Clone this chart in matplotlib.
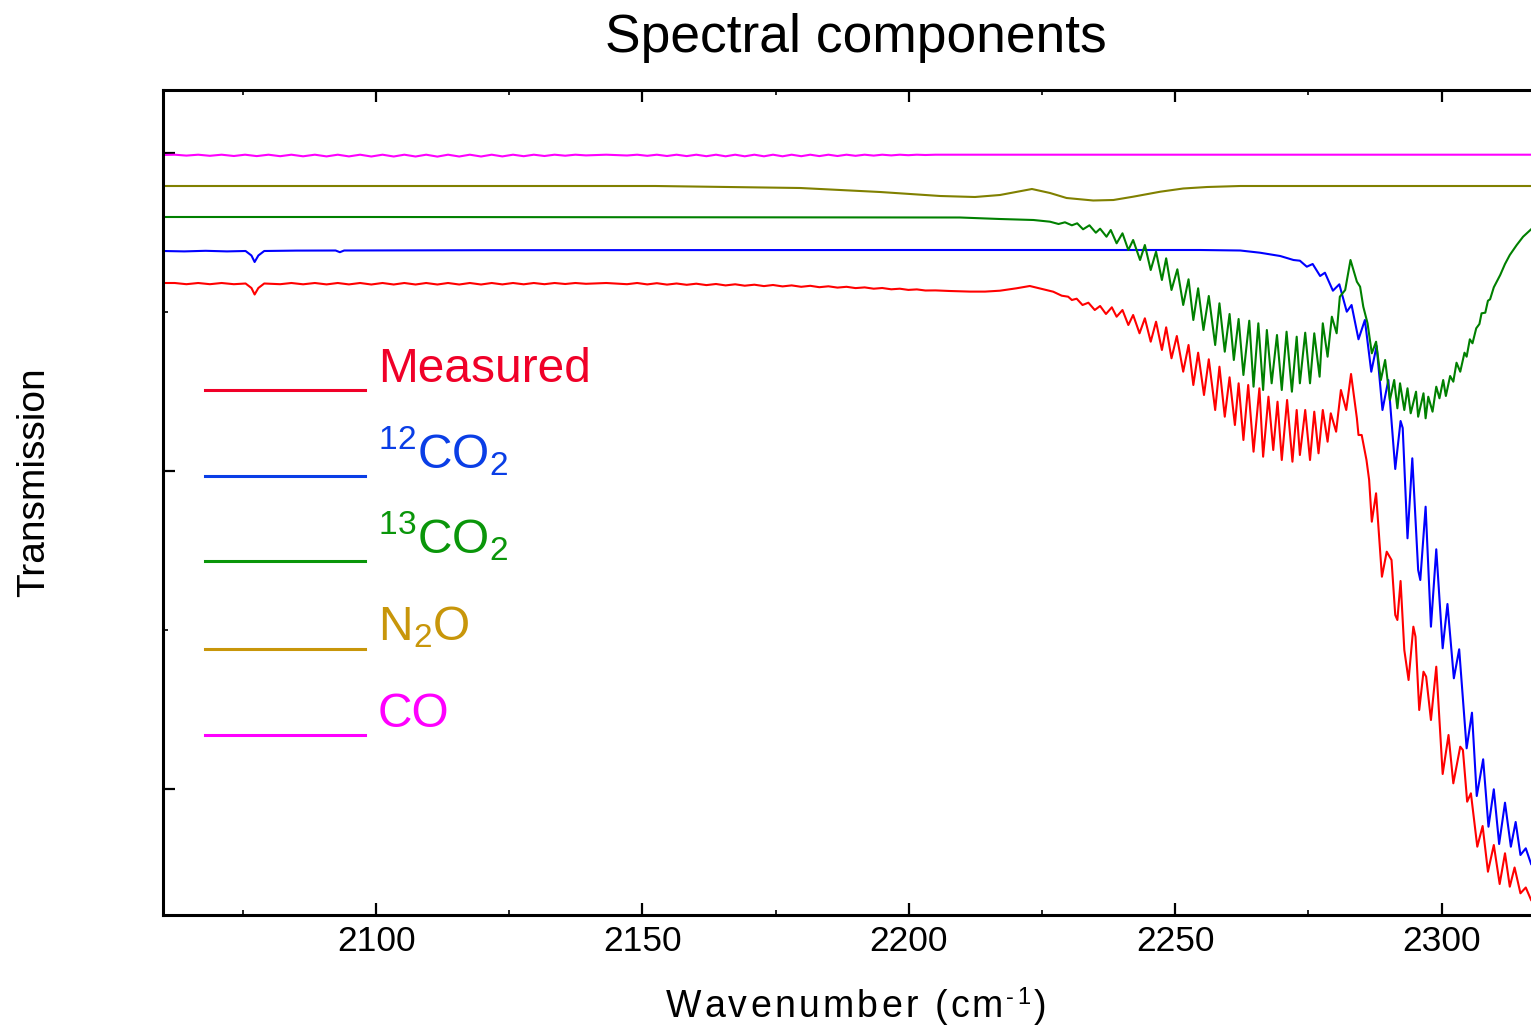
import numpy as np
import matplotlib
matplotlib.use('Agg')
import matplotlib.pyplot as plt
from matplotlib.ticker import MultipleLocator
from matplotlib.lines import Line2D
from matplotlib import font_manager as fm
from matplotlib.ft2font import FT2Font, LOAD_NO_HINTING

plt.rcParams['font.family'] = ['Liberation Sans', 'DejaVu Sans']
plt.rcParams['mathtext.fontset'] = 'custom'
plt.rcParams['mathtext.rm'] = 'Liberation Sans'
plt.rcParams['mathtext.it'] = 'Liberation Sans:italic'
plt.rcParams['mathtext.bf'] = 'Liberation Sans:bold'

# ---------------- data (wavenumber in cm-1, transmission in arbitrary units) -------------
measured_wn = [2060.0, 2062.2, 2064.4, 2066.6, 2068.8, 2071.0, 2073.3, 2075.5, 2076.6, 2077.2,
               2077.9, 2079.0, 2082.0, 2084.1, 2086.3, 2088.5, 2090.7, 2092.8, 2094.9, 2097.0,
               2099.1, 2101.2, 2103.3, 2105.3, 2107.4, 2109.4, 2111.5, 2113.5, 2115.6, 2117.6,
               2119.7, 2121.7, 2123.7, 2125.7, 2127.7, 2129.6, 2131.6, 2133.5, 2135.5, 2137.4,
               2139.4, 2143.2, 2147.1, 2149.0, 2150.9, 2152.7, 2154.6, 2156.4, 2158.3, 2160.1,
               2162.0, 2163.8, 2165.6, 2167.4, 2169.2, 2171.0, 2172.8, 2174.5, 2176.3, 2178.0,
               2179.8, 2181.5, 2183.2, 2184.9, 2186.6, 2188.3, 2190.0, 2191.7, 2193.4, 2195.0,
               2196.7, 2198.3, 2199.9, 2201.5, 2203.1, 2205.0, 2207.7, 2211.5, 2214.3, 2217.1,
               2220.2, 2222.7, 2225.2, 2227.1, 2228.7, 2229.9, 2230.6, 2231.5, 2232.6, 2233.7,
               2234.9, 2235.9, 2237.0, 2238.1, 2239.0, 2240.1, 2241.2, 2242.1, 2243.3, 2244.3,
               2245.4, 2246.4, 2247.5, 2248.3, 2249.3, 2250.3, 2251.5, 2252.5, 2253.4, 2254.3,
               2255.4, 2256.3, 2257.5, 2258.3, 2259.3, 2260.2, 2261.2, 2261.9, 2262.8, 2263.7,
               2264.7, 2265.8, 2266.5, 2267.5, 2268.4, 2269.2, 2270.0, 2271.0, 2272.0, 2272.8,
               2273.4, 2274.4, 2275.3, 2276.1, 2276.9, 2277.7, 2278.6, 2279.2, 2280.2, 2281.1,
               2282.1, 2283.0, 2284.1, 2284.4, 2285.0, 2285.9, 2286.4, 2286.9, 2287.7, 2288.8,
               2289.7, 2290.6, 2291.3, 2291.7, 2292.3, 2293.0, 2293.8, 2294.7, 2295.1, 2295.8,
               2296.6, 2297.1, 2298.0, 2299.0, 2300.2, 2301.3, 2302.2, 2303.5, 2304.0, 2304.8,
               2305.5, 2306.7, 2307.7, 2308.7, 2309.8, 2310.9, 2311.9, 2312.8, 2313.7, 2314.8,
               2315.8, 2316.8]
measured_T = [665.0, 665.0, 663.8, 665.0, 663.8, 665.0, 663.8, 664.5, 660.0, 653.5,
              660.0, 664.5, 663.8, 665.0, 663.7, 665.0, 663.6, 665.0, 663.6, 665.0,
              663.5, 665.0, 663.5, 665.0, 663.5, 665.0, 663.5, 665.0, 663.5, 665.0,
              663.5, 665.0, 663.6, 665.0, 663.7, 665.0, 663.8, 665.0, 664.0, 665.0,
              664.2, 665.0, 663.8, 665.0, 663.6, 664.8, 663.4, 664.5, 663.2, 664.3,
              662.9, 664.0, 662.6, 663.7, 662.3, 663.3, 661.9, 663.0, 661.6, 662.6,
              661.2, 662.2, 660.8, 661.7, 660.4, 661.2, 659.9, 660.6, 659.3, 660.0,
              658.7, 659.3, 658.1, 658.6, 657.5, 657.6, 657.0, 656.4, 656.4, 657.3,
              659.7, 662.0, 658.7, 656.3, 652.3, 651.3, 648.0, 649.3, 643.0, 645.3,
              638.0, 642.0, 634.0, 640.7, 631.3, 638.0, 623.0, 633.0, 614.7, 629.7,
              606.3, 626.3, 598.0, 620.7, 589.7, 612.0, 576.3, 603.0, 563.0, 595.3,
              553.0, 588.7, 538.0, 581.3, 531.3, 570.7, 523.0, 564.7, 508.0, 563.0,
              496.3, 559.7, 491.3, 551.3, 498.0, 546.3, 488.0, 548.0, 486.3, 538.0,
              493.0, 538.0, 488.0, 536.3, 494.7, 538.0, 506.3, 534.7, 516.3, 558.0,
              538.0, 574.0, 529.7, 513.0, 513.0, 488.0, 468.0, 426.3, 454.7, 371.3,
              396.3, 388.0, 333.0, 328.0, 367.0, 298.0, 268.0, 321.3, 311.3, 238.0,
              276.3, 271.3, 228.0, 281.3, 174.0, 213.0, 164.7, 201.3, 198.0, 146.3,
              154.7, 101.3, 122.0, 76.3, 103.0, 64.0, 94.7, 61.3, 80.5, 54.7,
              60.5, 48.0]

co2_12_wn = [2060.0, 2064.0, 2068.0, 2072.0, 2075.5, 2076.6, 2077.2, 2077.9, 2079.0, 2085.0,
             2092.4, 2093.2, 2094.0, 2120.0, 2200.0, 2254.7, 2262.2, 2265.9, 2269.7, 2272.2,
             2273.4, 2274.7, 2275.8, 2277.2, 2278.1, 2279.6, 2280.8, 2282.2, 2283.1, 2284.4,
             2285.6, 2286.8, 2287.8, 2288.9, 2290.0, 2291.3, 2292.3, 2292.7, 2293.6, 2294.5,
             2295.6, 2296.0, 2297.0, 2298.0, 2299.0, 2300.2, 2301.1, 2302.3, 2303.3, 2304.7,
             2305.7, 2306.6, 2307.8, 2308.8, 2309.8, 2310.8, 2311.9, 2313.0, 2313.9, 2314.8,
             2315.8, 2316.8]
co2_12_T = [697.0, 696.6, 697.2, 696.6, 697.0, 692.5, 686.0, 692.5, 697.0, 697.4,
            697.5, 695.8, 697.5, 697.8, 698.0, 698.0, 697.5, 695.3, 692.0, 688.0,
            687.3, 681.3, 684.0, 672.0, 675.3, 657.3, 663.7, 636.3, 643.0, 608.7,
            628.0, 576.3, 602.0, 538.0, 568.0, 479.0, 527.0, 520.0, 409.7, 489.7,
            378.0, 368.0, 441.3, 321.3, 398.7, 299.7, 344.0, 269.7, 298.7, 199.7,
            235.3, 152.0, 188.7, 121.3, 158.7, 104.0, 145.3, 101.3, 126.0, 93.0,
            99.7, 84.0]

co2_13_wn = [2060.0, 2098.0, 2209.6, 2217.1, 2223.4, 2226.5, 2228.1, 2229.3, 2230.6, 2231.6,
             2232.7, 2233.9, 2235.1, 2235.9, 2237.1, 2237.9, 2239.0, 2240.1, 2241.2, 2242.1,
             2243.4, 2244.3, 2245.4, 2246.4, 2247.5, 2248.3, 2249.3, 2250.4, 2251.5, 2252.5,
             2253.4, 2254.3, 2255.3, 2256.3, 2257.5, 2258.3, 2259.3, 2260.2, 2261.0, 2261.9,
             2262.8, 2263.9, 2264.7, 2265.6, 2266.5, 2267.2, 2268.1, 2269.1, 2270.0, 2270.9,
             2271.9, 2272.8, 2273.4, 2274.4, 2275.3, 2276.1, 2277.1, 2277.7, 2278.6, 2279.4,
             2280.3, 2280.9, 2281.9, 2282.9, 2284.1, 2284.7, 2285.3, 2286.1, 2286.9, 2287.7,
             2288.6, 2289.4, 2290.3, 2291.1, 2291.7, 2292.2, 2293.0, 2293.6, 2294.2, 2295.2,
             2295.6, 2296.6, 2297.0, 2297.5, 2298.3, 2299.0, 2299.6, 2300.3, 2300.8, 2301.6,
             2302.2, 2302.8, 2303.5, 2304.3, 2304.7, 2305.3, 2305.8, 2306.5, 2307.1, 2307.5,
             2308.2, 2308.7, 2309.1, 2309.8, 2311.0, 2311.9, 2312.8, 2314.1, 2315.3, 2316.8]
co2_13_T = [731.0, 731.0, 730.5, 729.0, 728.0, 726.3, 724.0, 725.7, 722.7, 724.7,
            718.7, 722.7, 715.3, 719.3, 711.3, 718.0, 704.7, 714.7, 698.0, 708.0,
            688.0, 703.0, 678.0, 696.3, 668.0, 689.7, 658.0, 678.7, 643.0, 668.7,
            628.0, 659.7, 618.0, 652.0, 603.0, 644.7, 596.3, 634.0, 588.0, 629.0,
            573.0, 627.3, 561.3, 624.7, 558.0, 618.0, 564.7, 613.0, 558.0, 616.3,
            556.3, 611.3, 564.7, 615.3, 564.7, 614.7, 571.3, 624.7, 591.3, 631.3,
            614.7, 651.3, 658.0, 688.0, 666.3, 661.3, 641.3, 624.7, 594.7, 606.3,
            568.0, 588.0, 548.0, 568.0, 539.7, 564.7, 538.0, 559.7, 534.7, 556.3,
            531.3, 554.7, 529.7, 551.3, 536.3, 561.3, 549.7, 568.0, 552.0, 572.0,
            566.3, 585.3, 576.3, 595.3, 591.3, 608.7, 604.7, 619.7, 624.0, 634.7,
            635.3, 647.3, 648.7, 660.7, 673.0, 684.0, 693.0, 703.0, 711.3, 718.7]

n2o_wn = [2060.0, 2152.4, 2179.6, 2194.6, 2205.9, 2212.4, 2217.1, 2223.1, 2226.5, 2229.6,
          2234.6, 2238.4, 2242.1, 2247.2, 2251.5, 2256.0, 2262.2, 2316.8]
n2o_T = [762.0, 762.0, 760.0, 756.0, 752.0, 751.0, 753.0, 759.0, 755.0, 750.0,
         747.5, 748.0, 751.3, 756.3, 759.5, 761.0, 762.0, 762.0]

co_wn = [2060.0, 2062.2, 2064.4, 2066.6, 2068.8, 2071.0, 2073.3, 2075.4, 2077.6, 2079.8,
         2082.0, 2084.1, 2086.3, 2088.5, 2090.7, 2092.8, 2094.9, 2097.0, 2099.1, 2101.2,
         2103.3, 2105.3, 2107.4, 2109.4, 2111.5, 2113.5, 2115.6, 2117.6, 2119.7, 2121.7,
         2123.7, 2125.7, 2127.7, 2129.6, 2131.6, 2133.5, 2135.5, 2137.4, 2139.4, 2143.2,
         2147.1, 2149.0, 2150.9, 2152.7, 2154.6, 2156.4, 2158.3, 2160.1, 2162.0, 2163.8,
         2165.6, 2167.4, 2169.2, 2171.0, 2172.8, 2174.5, 2176.3, 2178.0, 2179.8, 2181.5,
         2183.2, 2184.9, 2186.6, 2188.3, 2190.0, 2191.7, 2193.4, 2195.0, 2196.7, 2198.3,
         2199.9, 2201.5, 2203.1, 2205.0, 2316.8]
co_T = [793.0, 793.3, 792.4, 793.3, 792.2, 793.3, 792.0, 793.3, 791.9, 793.3,
        791.8, 793.3, 791.7, 793.3, 791.6, 793.3, 791.6, 793.3, 791.5, 793.3,
        791.5, 793.3, 791.5, 793.3, 791.4, 793.3, 791.5, 793.3, 791.5, 793.3,
        791.6, 793.3, 791.8, 793.3, 792.0, 793.3, 792.3, 793.3, 792.6, 793.3,
        792.5, 793.3, 792.2, 793.3, 792.0, 793.3, 791.9, 793.3, 791.8, 793.3,
        791.7, 793.3, 791.7, 793.3, 791.7, 793.3, 791.7, 793.3, 791.8, 793.3,
        791.9, 793.3, 792.0, 793.3, 792.2, 793.3, 792.4, 793.3, 792.6, 793.3,
        792.8, 793.3, 793.0, 793.3, 793.3]

legend_labels = ['Measured', r'$\mathregular{^{12}CO_2}$', r'$\mathregular{^{13}CO_2}$',
                 r'$\mathregular{N_2O}$', 'CO']
line_colors = ['#ff0000', '#0000ff', '#008000', '#808000', '#ff00ff']
legend_colors = ['#f00028', '#0a3ee6', '#0a960a', '#c8960a', '#ff00ff']

# ---------------- figure -------------
W, H = 1531, 1027
DPI = 100
fig = plt.figure(figsize=(W / DPI, H / DPI), dpi=DPI)
ax = fig.add_axes([163 / W, 112 / H, 1386 / W, 825 / H])

series = [(measured_wn, measured_T), (co2_12_wn, co2_12_T), (co2_13_wn, co2_13_T),
          (n2o_wn, n2o_T), (co_wn, co_T)]
for (xw, yt), c in zip(series, line_colors):
    ax.plot(xw, yt, color=c, lw=1.5, solid_joinstyle='round')

ax.set_xlim(2060.0, 2320.16)
ax.set_ylim(33, 858)
ax.xaxis.set_major_locator(MultipleLocator(50))
ax.xaxis.set_minor_locator(MultipleLocator(25))
ax.yaxis.set_major_locator(MultipleLocator(318, offset=159))
ax.yaxis.set_minor_locator(MultipleLocator(159))
ax.tick_params(which='both', direction='in', top=True, right=False, bottom=True, left=True)
ax.tick_params(which='major', length=8.6, width=1.6, labelsize=25.5, pad=7)
ax.tick_params(which='minor', length=3.5, width=1.2)
ax.tick_params(axis='y', which='both', labelleft=False)
for s in ax.spines.values():
    s.set_linewidth(2.2)

fig.text(856 / W, 1 - 52 / H, 'Spectral components', ha='center', va='baseline', fontsize=38.4)
fig.text(34 / W, 1 - 482 / H, 'Transmission', rotation=90, ha='center', va='center', fontsize=28)

# x label drawn with a little letter spacing, as in the original
font_path = fm.findfont(fm.FontProperties(family='Liberation Sans'))
ft = FT2Font(font_path)


def advance_px(ch, size_pt):
    ft.set_size(size_pt, DPI)
    g = ft.load_char(ord(ch), flags=LOAD_NO_HINTING)
    return g.linearHoriAdvance / 65536.0


xl_size = 27
sup_size = 17
track = 3.2
pieces = [(c, xl_size, 0) for c in 'Wavenumber (cm'] + [('-', sup_size, 13), ('1', sup_size, 13)] + \
         [(')', xl_size, 0)]
total = sum(advance_px(c, s) for c, s, _ in pieces) + track * (len(pieces) - 1)
x0 = 856 - total / 2.0
base_y = 1017
for c, s, dy in pieces:
    fig.text(x0 / W, 1 - (base_y - dy) / H, c, fontsize=s, ha='left', va='baseline')
    x0 += advance_px(c, s) + track

line_y = [390, 475.7, 561, 649, 735]
text_y = [382, 468, 553, 640, 727]
for lab, c, ly, ty in zip(legend_labels, legend_colors, line_y, text_y):
    fig.add_artist(Line2D([205 / W, 365 / W], [1 - ly / H, 1 - ly / H], transform=fig.transFigure,
                          color=c, lw=2.2))
    fig.text(378 / W, 1 - ty / H, lab, color=c, fontsize=34.5, ha='left', va='baseline')

fig.savefig('out.png', dpi=DPI)
